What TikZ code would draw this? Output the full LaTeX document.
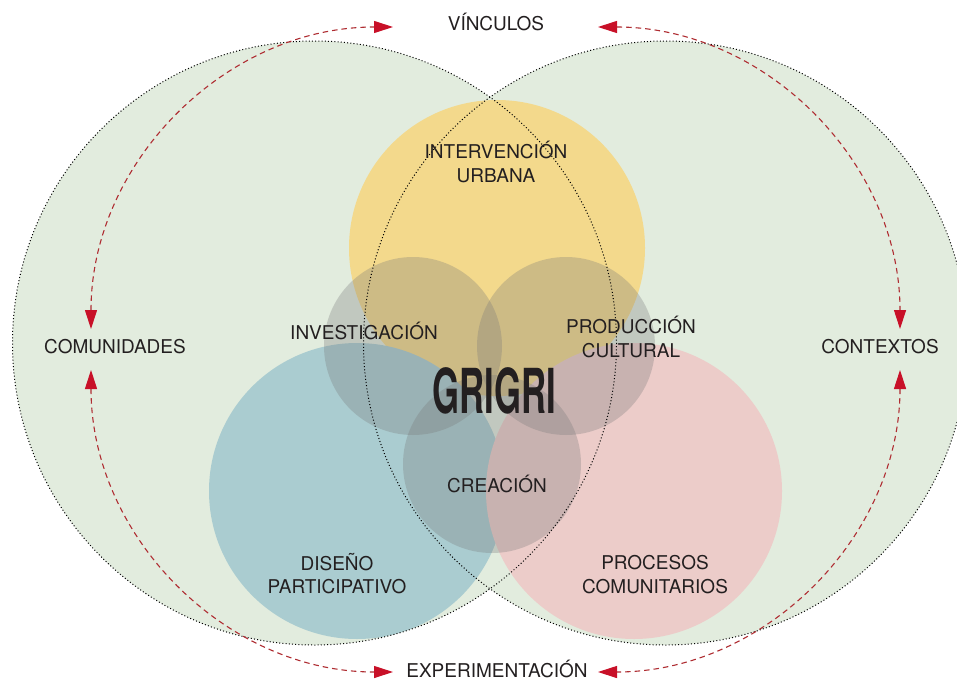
\documentclass[tikz,border=0pt]{standalone}
\usepackage{graphicx}
\usepackage{fontspec}
\setmainfont{TeX Gyre Heros}
\usetikzlibrary{arrows.meta}
\definecolor{bggreen}{RGB}{226,236,222}
\definecolor{cyellow}{RGB}{243,217,140}
\definecolor{cblue}{RGB}{170,204,208}
\definecolor{cpink}{RGB}{236,204,201}
\definecolor{cgrey}{RGB}{120,120,120}
\definecolor{arrline}{RGB}{175,45,50}
\definecolor{arrhead}{RGB}{200,16,40}
\definecolor{txt}{RGB}{35,31,32}
\begin{document}
\begin{tikzpicture}[x=1pt,y=-1pt,
  lbl/.style={text=txt, font=\fontsize{19}{24}\selectfont, inner sep=0pt, anchor=base},
  dotring/.style={draw=black, line width=1pt, dash pattern=on 1pt off 2.2pt},
  greyring/.style={fill=cgrey, fill opacity=0.3},
  cyclearrow/.style={draw=arrline, line width=1.1pt, dash pattern=on 5.5pt off 4pt,
     {Triangle[length=19pt,width=12pt,color=arrhead]}-{Triangle[length=19pt,width=12pt,color=arrhead]}}]
\useasboundingbox (0,0) rectangle (957,682);
\clip (0,0) rectangle (957,682);
\fill[white] (0,0) rectangle (957,682);
% big circles
\fill[bggreen] (314.5,343) circle[radius=302];
\fill[bggreen] (665.5,343) circle[radius=302];
% coloured circles
\fill[cyellow] (497,248) circle[radius=148];
\fill[cblue] (357,491) circle[radius=148];
\fill[cpink] (634,491) circle[radius=148];
% grey translucent circles
\fill[greyring] (413,346) circle[radius=89];
\fill[greyring] (566,346) circle[radius=89];
\fill[greyring] (492,464) circle[radius=89];
% dotted outlines
\draw[dotring] (314.5,343) circle[radius=302];
\draw[dotring] (665.5,343) circle[radius=302];
% labels
\node[lbl] (vinc) at (496,31) {VÍNCULOS};
\node[lbl] (comu) at (115,353) {COMUNIDADES};
\node[lbl] (cont) at (880,353) {CONTEXTOS};
\node[lbl] (expe) at (497,677) {EXPERIMENTACIÓN};
\node[lbl] (inter1) at (496,158) {INTERVENCIÓN};
\node[lbl] (inter2) at (496,182) {URBANA};
\node[lbl] (inve) at (364,339) {INVESTIGACIÓN};
\node[lbl] (prod1) at (631,333) {PRODUCCIÓN};
\node[lbl] (prod2) at (631,357) {CULTURAL};
\node[lbl] (crea) at (497,492) {CREACIÓN};
\node[lbl] (dise1) at (337,570) {DISEÑO};
\node[lbl] (dise2) at (337,593) {PARTICIPATIVO};
\node[lbl] (proc1) at (655,569) {PROCESOS};
\node[lbl] (proc2) at (655,593) {COMUNITARIOS};
\node[anchor=base, inner sep=0pt, text=txt] (grigri) at (494,413)
  {\scalebox{0.56}[1]{\fontsize{62}{62}\selectfont\bfseries GRIGRI}};
% arrow arcs
\coordinate (tlA) at (91,329);
\coordinate (trA) at (598,27);
\coordinate (blA) at (91,370);
\coordinate (brA) at (900,370);
\draw[cyclearrow] (tlA) arc[start angle=180, end angle=270, radius=302];
\draw[cyclearrow] (trA) arc[start angle=270, end angle=360, radius=302];
\draw[cyclearrow] (blA) arc[start angle=180, end angle=90, radius=302];
\draw[cyclearrow] (brA) arc[start angle=0, end angle=90, radius=302];
\end{tikzpicture}
\end{document}
